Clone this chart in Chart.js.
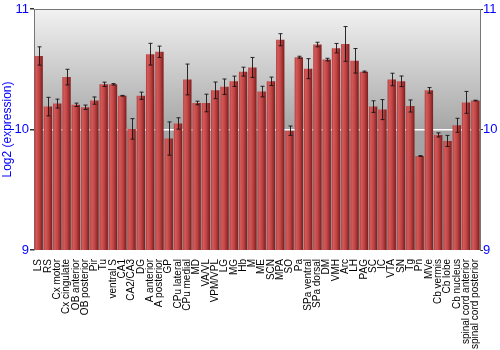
<!DOCTYPE html>
<html>
<head>
<meta charset="utf-8">
<script src="https://cdn.jsdelivr.net/npm/chart.js@4/dist/chart.umd.min.js"></script>
<style>
  html, body { margin: 0; padding: 0; background: #fff; }
  #wrap { width: 500px; height: 350px; }
</style>
</head>
<body>
<div id="wrap"><canvas id="chart"></canvas></div>
<script>
// 영역별 발현량 (log2) — 평균과 오차
const REGIONS = [
  "LS", "RS", "Cx motor", "Cx cingulate", "OB anterior", "OB posterior", "Pir", "Tu",
  "ventral S", "CA1", "CA2/CA3", "DG", "A anterior", "A posterior", "GP", "CPu lateral",
  "CPu medial", "MD", "VA/VL", "VPM/VPL", "LG", "MG", "Hb", "M",
  "ME", "SCN", "MPA", "SO", "Pa", "SPa ventral", "SPa dorsal", "DM",
  "VMH", "Arc", "LH", "PAG", "SC", "IC", "VTA", "SN",
  "Tg", "Pn", "MVe", "Cb vermis", "Cb lobe", "Cb nucleus", "spinal cord anterior", "spinal cord posterior",
];
const MEANS = [
  10.61, 10.19, 10.215, 10.435, 10.205, 10.185, 10.24, 10.375,
  10.375, 10.28, 10.005, 10.28, 10.625, 10.645, 9.925, 10.05,
  10.415, 10.22, 10.22, 10.325, 10.355, 10.40, 10.48, 10.515,
  10.315, 10.40, 10.745, 9.99, 10.60, 10.505, 10.705, 10.58,
  10.675, 10.71, 10.57, 10.48, 10.19, 10.165, 10.415, 10.40,
  10.195, 9.78, 10.325, 9.955, 9.905, 10.035, 10.225, 10.24,
];
const ERRS = [
  0.076, 0.077, 0.037, 0.065, 0.014, 0.018, 0.030, 0.018,
  0.006, 0.003, 0.085, 0.030, 0.090, 0.047, 0.138, 0.047,
  0.128, 0.015, 0.073, 0.069, 0.064, 0.043, 0.037, 0.083,
  0.044, 0.035, 0.050, 0.039, 0.008, 0.083, 0.019, 0.011,
  0.039, 0.144, 0.102, 0.005, 0.048, 0.083, 0.052, 0.044,
  0.050, 0.003, 0.023, 0.017, 0.046, 0.058, 0.091, 0.003,
];
const Y_TICKS = [9, 10, 11];

const BLUE = "#0000ff";
const AXIS = "#777777";

Chart.defaults.font.family = '"Liberation Sans", Arial, sans-serif';

// 막대마다 가로 그라데이션 (왼쪽 밝고 오른쪽 어둡게)
function barFill(ctx) {
  const chart = ctx.chart;
  const xs = chart.scales.x;
  if (ctx.type !== "data" || !xs) return "#b03a3a";
  const cx = xs.getPixelForValue(ctx.dataIndex);
  const half = (xs.width / REGIONS.length) * 0.45;
  if (!Number.isFinite(cx) || !Number.isFinite(half) || half <= 0) return "#b03a3a";
  const g = chart.ctx.createLinearGradient(cx - half, 0, cx + half, 0);
  g.addColorStop(0, "#b23c3c");
  g.addColorStop(0.2, "#d45a5a");
  g.addColorStop(0.55, "#bf4444");
  g.addColorStop(1, "#7c1c1c");
  return g;
}

const panelBg = {
  id: "panelBg",
  beforeDraw(chart) {
    const { ctx, chartArea: a } = chart;
    const g = ctx.createLinearGradient(0, a.top, 0, a.bottom);
    g.addColorStop(0, "#f2f2f2");
    g.addColorStop(0.5, "#a6a6a6");
    g.addColorStop(1, "#9a9a9a");
    ctx.save();
    ctx.fillStyle = g;
    ctx.fillRect(a.left, a.top, a.right - a.left, a.bottom - a.top);
    ctx.restore();
  },
  afterDraw(chart) {
    const { ctx, chartArea: a } = chart;
    ctx.save();
    ctx.strokeStyle = AXIS;
    ctx.lineWidth = 1;
    ctx.beginPath();
    ctx.moveTo(a.left, a.top + 0.5);
    ctx.lineTo(a.right, a.top + 0.5);
    ctx.stroke();
    ctx.restore();
  },
};

const errorBars = {
  id: "errorBars",
  afterDatasetsDraw(chart) {
    const { ctx } = chart;
    const ys = chart.scales.y;
    const meta = chart.getDatasetMeta(0);
    ctx.save();
    ctx.strokeStyle = "rgba(20,20,20,0.9)";
    ctx.lineWidth = 1;
    meta.data.forEach((bar, i) => {
      const x = Math.round(bar.x) + 0.5;
      const yHi = ys.getPixelForValue(MEANS[i] + ERRS[i]);
      const yLo = ys.getPixelForValue(MEANS[i] - ERRS[i]);
      ctx.beginPath();
      ctx.moveTo(x, yHi);
      ctx.lineTo(x, yLo);
      ctx.moveTo(x - 2, yHi);
      ctx.lineTo(x + 2, yHi);
      ctx.moveTo(x - 2, yLo);
      ctx.lineTo(x + 2, yLo);
      ctx.stroke();
    });
    ctx.restore();
  },
};

const yTicks = {
  min: 9,
  max: 11,
  afterBuildTicks: (s) => { s.ticks = Y_TICKS.map((v) => ({ value: v })); },
};

new Chart(document.getElementById("chart"), {
  type: "bar",
  data: {
    labels: REGIONS,
    datasets: [{
      data: MEANS,
      backgroundColor: barFill,
      barPercentage: 0.9,
      categoryPercentage: 1.0,
    }],
  },
  plugins: [panelBg, errorBars],
  options: {
    responsive: true,
    maintainAspectRatio: false,
    animation: false,
    layout: { padding: { top: 9, left: 0, right: 0, bottom: 0 } },
    plugins: { legend: { display: false }, tooltip: { enabled: false } },
    scales: {
      x: {
        grid: { display: false },
        border: { display: false },
        afterFit: (s) => { s.height = 100; },
        ticks: {
          autoSkip: false,
          minRotation: 90,
          maxRotation: 90,
          padding: 1,
          color: "#000",
          font: { size: 10 },
        },
      },
      y: {
        ...yTicks,
        position: "left",
        afterFit: (s) => { s.width = 34; },
        border: { color: AXIS },
        grid: {
          color: (c) => (c.tick && c.tick.value === 10 ? "#ffffff" : "rgba(0,0,0,0)"),
          lineWidth: 1.5,
          tickColor: "#333",
          tickLength: 4,
        },
        ticks: { color: BLUE, font: { size: 13 }, padding: 1 },
        title: {
          display: true,
          text: "Log2 (expression)",
          color: BLUE,
          font: { size: 12 },
          padding: { top: 0, bottom: 0 },
        },
      },
      y2: {
        ...yTicks,
        position: "right",
        afterFit: (s) => { s.width = 20; },
        border: { color: AXIS },
        grid: { drawOnChartArea: false, tickColor: "#333", tickLength: 3 },
        ticks: { color: BLUE, font: { size: 13 }, padding: 0 },
      },
    },
  },
});
</script>
</body>
</html>
